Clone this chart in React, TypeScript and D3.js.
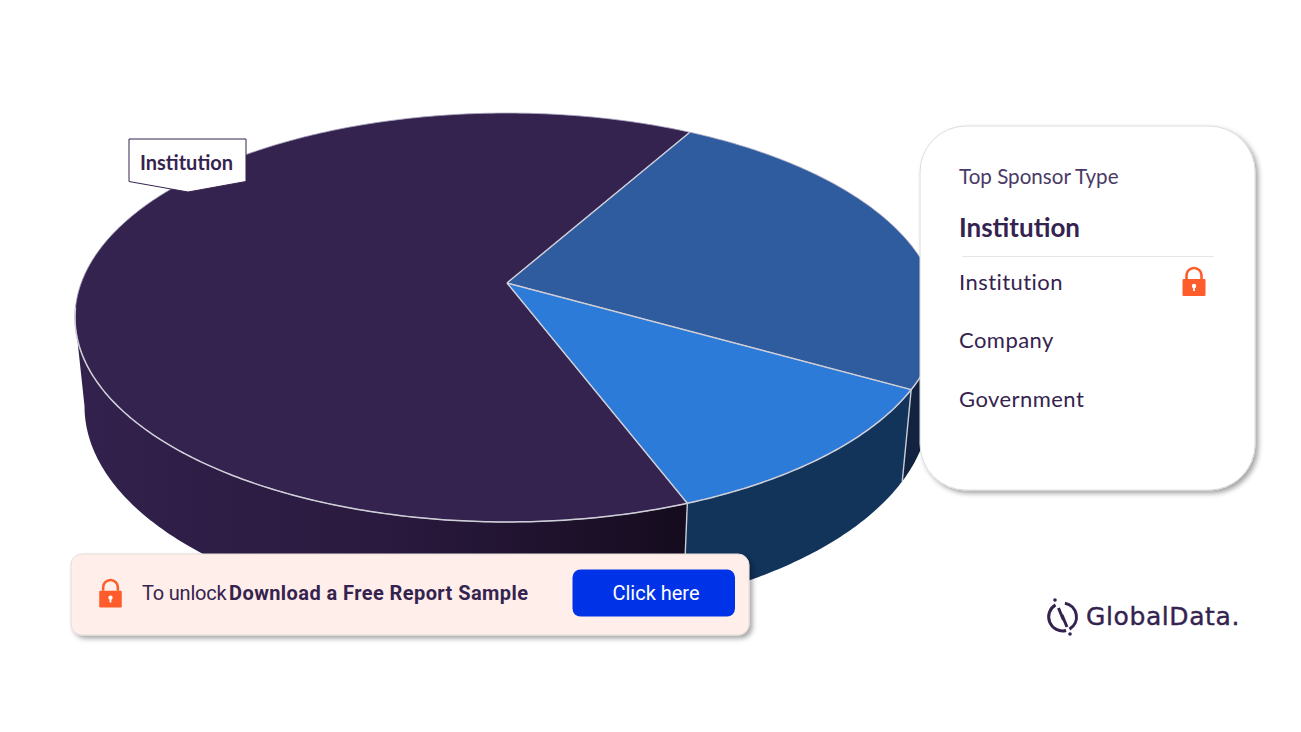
import React from 'react';
import * as d3 from 'd3';

// chart values
const categories = ['Institution', 'Company', 'Government'];
const shares = [64, 25, 11];
const topColors = ['#35234f', '#2f5c9f', '#2c7bd8'];
const sideColors = ['url(#institutionSide)', '#12233f', '#12335a'];
const rowBaselines = [290, 348, 407];
const cardTitle = 'Top Sponsor Type';
const topType = 'Institution';
const bannerLead = 'To unlock';
const bannerBold = 'Download a Free Report Sample';
const buttonText = 'Click here';

const width = 1301;
const height = 732;
const ink = '#35234f';
const orange = '#ff5c2b';

// the pie is a tilted disc seen in perspective, so the centre sits above the middle of the ellipse
const cx = 507;
const centreY = 283;
const persp = -0.1687;
const radiusY = 150.9;
const radiusX = 425.8;
const rad = (deg: number) => (deg * Math.PI) / 180;
const firstAngle = rad(159.1);
// the disc's silhouette turns at these angles, the wall is only seen between them
const nearFrom = Math.acos(persp);
const nearTo = 2 * Math.PI - nearFrom;

function topPoint(angle: number): [number, number] {
  const u = Math.sin(angle);
  const v = -Math.cos(angle);
  const w = 1 + persp * v;
  return [cx + (radiusX * u) / w, (radiusY * v + centreY) / w];
}

function bottomPoint(angle: number): [number, number] {
  const [x, y] = topPoint(angle);
  return [cx + (x - cx) * 0.978, y * 1.04 + 76];
}

const pie = d3
  .pie<number>()
  .sort(null)
  .startAngle(firstAngle)
  .endAngle(firstAngle + Math.PI * 2);
const slices = pie(shares);
const line = d3.line();

function arcAngles(a0: number, a1: number) {
  const n = Math.max(2, Math.ceil((a1 - a0) * 90));
  return d3.range(n + 1).map((i) => a0 + ((a1 - a0) * i) / n);
}

// outline of the visible part of a slice's wall; pie angles run past a full turn
function wallPath(a0: number, a1: number) {
  const turn = a0 >= Math.PI * 2 ? Math.PI * 2 : 0;
  const from = Math.max(a0, nearFrom + turn);
  const to = Math.min(a1, nearTo + turn);
  const angles = arcAngles(from, to);
  return line([...angles.map(topPoint), ...angles.reverse().map(bottomPoint)]) + 'Z';
}

function Lock({ x, y, s }: { x: number; y: number; s: number }) {
  // x, y is the top centre of the shackle, s the scale
  return (
    <g transform={`translate(${x},${y}) scale(${s})`}>
      <path d="M-7.5,11 V7.5 A7.5,7.5 0 0 1 7.5,7.5 V11" fill="none" stroke={orange} strokeWidth={2.6} />
      <rect x={-11.5} y={11} width={23} height={17} rx={1} fill={orange} />
      <circle cx={0} cy={18} r={2.2} fill="#fff" />
      <rect x={-0.9} y={18} width={1.8} height={5} fill="#fff" />
    </g>
  );
}

export default function App() {
  return (
    <svg
      width={width}
      height={height}
      viewBox={`0 0 ${width} ${height}`}
      style={{ position: 'absolute', left: 0, top: 0, display: 'block', background: '#fff' }}
    >
      <defs>
        <linearGradient id="institutionSide" gradientUnits="userSpaceOnUse" x1={85} x2={687} y1={0} y2={0}>
          <stop offset="0" stopColor="#31214c" />
          <stop offset="0.5" stopColor="#2a1a3f" />
          <stop offset="1" stopColor="#150b1e" />
        </linearGradient>
        <filter id="cardShadow" x="-10%" y="-10%" width="125%" height="125%">
          <feDropShadow dx={3} dy={3} stdDeviation={2.5} floodColor="#000" floodOpacity={0.35} />
        </filter>
      </defs>

      {/* walls first, the top faces go over them */}
      {slices.map((s, i) => (
        <path key={categories[i]} d={wallPath(s.startAngle, s.endAngle)} fill={sideColors[i]} />
      ))}
      {[slices[2].startAngle, firstAngle].map((a) => (
        <path key={a} d={line([topPoint(a), bottomPoint(a)]) as string} stroke="#c9ccd6" strokeWidth={1.4} fill="none" />
      ))}

      {slices.map((s, i) => {
        const rim = arcAngles(s.startAngle, s.endAngle).map(topPoint);
        const d = line([[cx, centreY], ...rim]) + 'Z';
        return <path key={categories[i]} d={d} fill={topColors[i]} stroke="#a9a6c0" strokeWidth={0.8} strokeLinejoin="round" />;
      })}
      {/* the near rim and the slice seams are brighter than the far rim */}
      <path d={line(arcAngles(rad(100), rad(263)).map(topPoint)) as string} fill="none" stroke="#cfcfd8" strokeWidth={1.5} />
      {slices.map((s) => (
        <path key={s.index} d={line([[cx, centreY], topPoint(s.startAngle)]) as string} fill="none" stroke="#cfcfd8" strokeWidth={1.4} />
      ))}

      {/* data label */}
      <path d="M129,139 H246 V181.5 L188,192 L129,181.5 Z" fill="#fff" stroke={ink} strokeWidth={1} />
      <text x={186.5} y={169.5} textAnchor="middle" fontFamily="Lato" fontWeight={700} fontSize={20} fill={ink}>
        {categories[0]}
      </text>

      {/* card */}
      <rect x={920} y={126} width={335} height={364} rx={46} fill="#fff" stroke="#dcdcdc" strokeWidth={1} filter="url(#cardShadow)" />
      <text x={959} y={184} fontFamily="Lato" fontSize={20.6} fill="#4a3a66">
        {cardTitle}
      </text>
      <text x={959} y={237} fontFamily="Lato" fontWeight={700} fontSize={26} fill={ink}>
        {topType}
      </text>
      <line x1={962} x2={1214} y1={256.5} y2={256.5} stroke="#e6e6e6" strokeWidth={1} />
      {categories.map((c, i) => (
        <text key={c} x={959} y={rowBaselines[i]} fontFamily="Lato" fontSize={22} letterSpacing={0.45} fill={ink}>
          {c}
        </text>
      ))}
      <Lock x={1194} y={268} s={1} />

      {/* banner */}
      <rect x={71} y={554} width={678} height={81} rx={11} fill="#ffeeea" stroke="#e4dcda" strokeWidth={1} filter="url(#cardShadow)" />
      <Lock x={110.5} y={580} s={0.98} />
      <text x={142} y={600} fontFamily="Roboto" fontSize={20} letterSpacing={-0.2} fill={ink}>
        {bannerLead}
      </text>
      <text x={229} y={600} fontFamily="Roboto" fontWeight={700} fontSize={20} letterSpacing={0.42} fill={ink}>
        {bannerBold}
      </text>
      <rect x={572.5} y={569.5} width={162.5} height={47} rx={8} fill="#0033e8" />
      <text x={656} y={600} textAnchor="middle" fontFamily="Roboto" fontSize={20} fill="#fff">
        {buttonText}
      </text>

      {/* logo */}
      <g fill="none" stroke={ink} strokeWidth={3}>
        <path d="M1055.5,604.9 A14,14 0 0 0 1066.1,630.5" />
        <path d="M1064.9,603.2 A14,14 0 0 1 1069.5,629.1" />
        <path d="M1058.5,608 L1063.5,620" />
        <path d="M1062,615 L1067,627" />
      </g>
      <circle cx={1055} cy={600} r={1.8} fill={ink} />
      <circle cx={1070} cy={634} r={1.8} fill={ink} />
      <text x={1086} y={624.5} fontFamily="DejaVu Sans" fontSize={25} letterSpacing={0.6} fill={ink} stroke={ink} strokeWidth={0.4}>
        GlobalData.
      </text>
    </svg>
  );
}
